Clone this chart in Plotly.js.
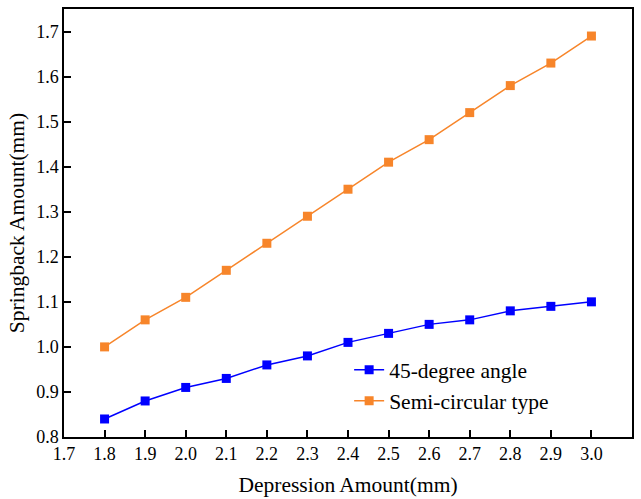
<!DOCTYPE html>
<html><head><meta charset="utf-8">
<script src="https://cdn.plot.ly/plotly-3.0.1.min.js"></script>
<style>body{margin:0;}#c{width:641px;height:499px;}</style>
</head><body><div id="c"></div>
<script>
const depression = [1.8,1.9,2.0,2.1,2.2,2.3,2.4,2.5,2.6,2.7,2.8,2.9,3.0];
const angle45 = [0.84,0.88,0.91,0.93,0.96,0.98,1.01,1.03,1.05,1.06,1.08,1.09,1.10];
const semiCircular = [1.00,1.06,1.11,1.17,1.23,1.29,1.35,1.41,1.46,1.52,1.58,1.63,1.69];
const xTicks = [1.7,1.8,1.9,2.0,2.1,2.2,2.3,2.4,2.5,2.6,2.7,2.8,2.9,3.0,3.1];
const yTicks = [0.8,0.9,1.0,1.1,1.2,1.3,1.4,1.5,1.6,1.7];

const font = {family:'"Liberation Serif","Times New Roman",serif', color:'#000'};
const traces = [
 {x:depression, y:angle45, name:'45-degree angle', mode:'lines+markers', type:'scatter',
  line:{color:'#0000ff', width:1.5}, marker:{symbol:'square', size:9, color:'#0000ff'}},
 {x:depression, y:semiCircular, name:'Semi-circular type', mode:'lines+markers', type:'scatter',
  line:{color:'#f7852a', width:1.5}, marker:{symbol:'square', size:9, color:'#f7852a'}}
];
const axBase = {showgrid:false, zeroline:false, showline:true, linecolor:'#000', linewidth:1.5,
  mirror:true, ticks:'inside', ticklen:7, tickwidth:1.5, tickcolor:'#000',
  tickfont:Object.assign({size:18}, font)};
const layout = {
  width:641, height:499, margin:{l:64, r:9, t:9, b:62},
  paper_bgcolor:'#fff', plot_bgcolor:'#fff', font:font, showlegend:true,
  xaxis:Object.assign({}, axBase, {range:[1.7,3.1], tickvals:xTicks, ticktext:xTicks.map(v=>v.toFixed(1)),
    title:{text:'Depression Amount(mm)', font:Object.assign({size:21.5}, font), standoff:14}}),
  yaxis:Object.assign({}, axBase, {range:[0.8,1.75], tickvals:yTicks, ticktext:yTicks.map(v=>v.toFixed(1)),
    title:{text:'Springback Amount(mm)', font:Object.assign({size:21.5}, font), standoff:6}}),
  legend:{x:0.502, y:0.205, xanchor:'left', yanchor:'top', bgcolor:'rgba(0,0,0,0)',
    font:Object.assign({size:21.5}, font), tracegroupgap:0}
};
Plotly.newPlot('c', traces, layout, {displayModeBar:false});
</script></body></html>
